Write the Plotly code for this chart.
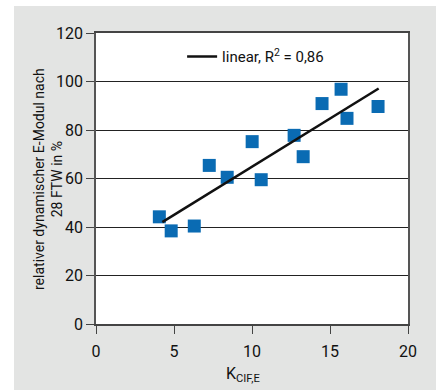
import plotly.graph_objects as go

# data
k_cif = [4.06, 4.82, 6.30, 7.26, 8.41, 10.01, 10.59, 12.70, 13.28, 14.49, 15.71, 16.09, 18.08]
e_modul = [44.2, 38.4, 40.4, 65.4, 60.5, 75.2, 59.5, 77.8, 69.0, 90.9, 96.8, 84.8, 89.7]
trend_x = [4.25, 18.12]
trend_y = [42.0, 97.1]
x_ticks = [0, 5, 10, 15, 20]
y_ticks = [0, 20, 40, 60, 80, 100, 120]

FONT = "Roboto, Liberation Sans, sans-serif"

fig = go.Figure()
fig.add_trace(go.Scatter(
    x=k_cif, y=e_modul, mode="markers", showlegend=False,
    marker=dict(symbol="square", size=13, color="#0a6bb3", line=dict(width=0)),
))
fig.add_trace(go.Scatter(
    x=trend_x, y=trend_y, mode="lines", name="linear, R<sup>2</sup> = 0,86",
    line=dict(color="#111111", width=2.5),
))

fig.update_layout(
    width=436, height=390,
    margin=dict(l=96, r=28, t=33, b=66),
    paper_bgcolor="white", plot_bgcolor="white",
    font=dict(family=FONT, size=15, color="#111111"),
    showlegend=True,
    legend=dict(x=0.276, y=0.975, xanchor="left", yanchor="top",
                bgcolor="rgba(0,0,0,0)", font=dict(size=15, family=FONT)),
    shapes=[
        dict(type="rect", xref="paper", yref="paper", x0=-0.2628, x1=1.2, y0=-0.4, y1=1.0928,
             fillcolor="#e3e4e3", line=dict(width=0), layer="below"),
        dict(type="rect", xref="paper", yref="paper", x0=0, x1=1, y0=0, y1=1,
             fillcolor="white", line=dict(width=0), layer="below"),
    ],
    annotations=[
        dict(text="relativer dynamischer E-Modul nach<br>28 FTW in %", xref="paper", yref="paper",
             x=(48 - 96) / 312, y=(324 - 179) / 291, xanchor="center", yanchor="middle", textangle=-90,
             showarrow=False, font=dict(size=14, family=FONT)),
        dict(text="K<sub>CIF,E</sub>", xref="paper", yref="paper",
             x=(243 - 96) / 312, y=(324 - 374) / 291, xanchor="center", yanchor="middle",
             showarrow=False, font=dict(size=16, family=FONT)),
    ],
)
fig.update_xaxes(range=[0, 20], tickvals=x_ticks, ticks="outside", ticklen=8, tickcolor="#444",
                 showgrid=False, zeroline=False, showline=True, linecolor="#444", linewidth=1.5,
                 mirror=True, tickfont=dict(size=16, family=FONT), ticklabelstandoff=4)
fig.update_yaxes(range=[0, 120], tickvals=y_ticks, ticks="outside", ticklen=8, tickcolor="#444",
                 showgrid=True, gridcolor="#222", gridwidth=1, zeroline=False, showline=True,
                 linecolor="#555", linewidth=1.5, mirror=True, tickfont=dict(size=16, family=FONT))

fig.write_html("out.html", config={"displayModeBar": False},
               post_script="document.body.style.margin='0';")
